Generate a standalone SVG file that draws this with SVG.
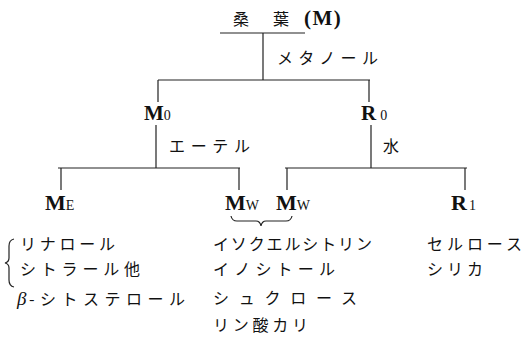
<svg xmlns="http://www.w3.org/2000/svg" width="529" height="341" viewBox="0 0 529 341">
<style>
.jp{font-family:"Noto Sans CJK JP","Noto Sans CJK SC",sans-serif;font-size:16px;fill:#111}
.lat{font-family:"Liberation Serif",serif;font-weight:bold;fill:#111}
.sub{font-weight:normal;font-size:14px}
.ln{stroke:#222;stroke-width:1.2;fill:none}
</style>
<rect width="529" height="341" fill="#fff"/>
<g id="node-M">
<text class="jp" x="233" y="25">桑</text>
<text class="jp" x="273" y="25">葉</text>
<text class="lat" x="304" y="25" font-size="21" letter-spacing="1.5">(M)</text>
</g>
<g id="node-M0">
<text class="lat" x="144" y="120" font-size="21">M<tspan class="sub">0</tspan></text>
</g>
<g id="node-R0">
<text class="lat" x="361" y="120" font-size="21">R<tspan class="sub" dx="4">0</tspan></text>
</g>
<g id="node-ME">
<text class="lat" x="45" y="210" font-size="22">M<tspan class="sub">E</tspan></text>
</g>
<g id="node-MW1">
<text class="lat" x="225" y="210" font-size="22">M<tspan class="sub" font-size="15">W</tspan></text>
</g>
<g id="node-MW2">
<text class="lat" x="276" y="210" font-size="22">M<tspan class="sub" font-size="15">W</tspan></text>
</g>
<g id="node-R1">
<text class="lat" x="451" y="210" font-size="22">R<tspan class="sub" dx="2">1</tspan></text>
</g>
<g id="connectors">
<path class="ln" d="M220 33H305M263 33V80M158 80H370M158 80V102M369 80V102M156 125V168M371 125V168M58 168H240M61 168V190M239 168V190M285 168H467M287 168V190M465 168V190"/>
<path class="ln" d="M231 216Q232 221 237 221H256Q260 221 261 226Q262 221 266 221H286Q291 221 292 216"/>
</g>
<g id="labels">
<text class="jp" x="277" y="64" textLength="101" lengthAdjust="spacing">メタノール</text>
<text class="jp" x="169" y="152" textLength="81" lengthAdjust="spacing">エーテル</text>
<text class="jp" x="383" y="152">水</text>
</g>
<g id="lists">
<path class="ln" d="M14 239Q9 240 9 246V258Q9 262 5 263Q9 264 9 268V280Q9 286 14 287"/>
<text class="jp" x="20" y="250" textLength="95" lengthAdjust="spacing">リナロール</text>
<text class="jp" x="20" y="275" textLength="120" lengthAdjust="spacing">シトラール他</text>
<text x="17" y="305" font-family="Liberation Serif,serif" font-style="italic" font-size="19" fill="#111">β</text>
<text class="jp" x="29" y="305" textLength="156" lengthAdjust="spacing">-シトステロール</text>
<text class="jp" x="213" y="250" textLength="159" lengthAdjust="spacing">イソクエルシトリン</text>
<text class="jp" x="213" y="275" textLength="122" lengthAdjust="spacing">イノシトール</text>
<text class="jp" x="213" y="304" textLength="144" lengthAdjust="spacing">シュクロース</text>
<text class="jp" x="213" y="331" textLength="95" lengthAdjust="spacing">リン酸カリ</text>
<text class="jp" x="427" y="250" textLength="95" lengthAdjust="spacing">セルロース</text>
<text class="jp" x="427" y="275" textLength="56" lengthAdjust="spacing">シリカ</text>
</g>
</svg>
